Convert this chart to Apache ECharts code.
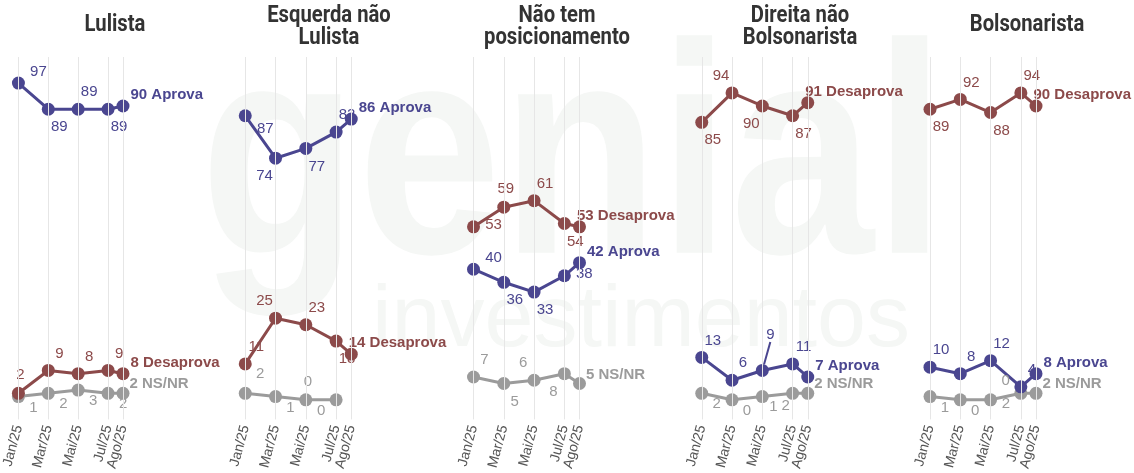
<!DOCTYPE html>
<html>
<head>
<meta charset="utf-8">
<script src="https://cdn.jsdelivr.net/npm/echarts@6/dist/echarts.min.js"></script>
<style>
  html, body { margin: 0; padding: 0; background: #fff; }
  #chart { width: 1134px; height: 473px; }
</style>
</head>
<body>
<div id="chart"></div>
<script>
// meses (posição no eixo = número do mês)
const months = [1, 3, 5, 7, 8];
const monthNames = ['Jan/25', 'Mar/25', 'Mai/25', 'Jul/25', 'Ago/25'];
const panelTitles = ['Lulista', 'Esquerda não\nLulista', 'Não tem\nposicionamento', 'Direita não\nBolsonarista', 'Bolsonarista'];

// valores por painel
const aprova = [
  [97, 89, 89, 89, 90],
  [87, 74, 77, 82, 86],
  [40, 36, 33, 38, 42],
  [13, 6, 9, 11, 7],
  [10, 8, 12, 4, 8]
];
const desaprova = [
  [2, 9, 8, 9, 8],
  [11, 25, 23, 18, 14],
  [53, 59, 61, 54, 53],
  [85, 94, 90, 87, 91],
  [89, 92, 88, 94, 90]
];
const nsnr = [
  [1, 2, 3, 2, 2],
  [2, 1, 0, 0, null],
  [7, 5, 6, 8, 5],
  [2, 0, 1, 2, 2],
  [1, 0, 0, 2, 2]
];

// onde fica cada rótulo (só layout); o último é o rótulo final
const aprovaPos = [
  ['tr2', 'br', 'tr', 'br', 'end'], ['br2', 'bl', 'br', 'tr', 'end'], ['tr2', 'br', 'br', 'r', 'end'],
  ['tr', 'tr', 'lead', 'tr', 'end'], ['tr', 'tr', 'tr', 'tr', 'end']
];
const desaprovaPos = [
  ['t', 'tr', 'tr', 'tr', 'end'], ['tr', 'tl', 'tr', 'br', 'endL'], ['r', 't', 'tr', 'br', 'endL'],
  ['br', 'tl', 'bl', 'br', 'endL'], ['br', 'tr', 'br', 'tr', 'endL']
];
const nsnrPos = [
  ['g', 'g', 'g', 'g', 'endN'], ['gt', 'g', 't', 'gl', 'endN'], ['tr', 'br', 'tl', 'bl', 'endN'],
  ['g', 'g', 'g2', 'gl2', 'endN'], ['g', 'g', 'gt', 'gl', 'endN']
];

const OFF = {
  t: [2, -18], tr: [11, -17], tl: [-11, -17], br: [11, 18], bl: [-11, 18],
  tr2: [20, -11], br2: [20, 13], r: [20, -2],
  g: [15, 11], gl: [-15, 11], gt: [15, -19], g2: [11, 10], gl2: [-7, 13],
  lead: [8, -36], end: [0, -11], endL: [-10, -11], endN: [-1, -9]
};

const FONT = '"Liberation Sans", Arial, sans-serif';
const COLORS = { aprova: '#4a4690', desaprova: '#8c4a4a', nsnr: '#9b9b9b' };
const titleX = [115, 329, 557, 800, 1027];

function buildSeries(i, vals, pos, name, color) {
  const codes = [];
  const data = vals.map((v, k) => {
    if (v === null) { codes.push(null); return [months[k], null]; }
    const item = { value: [months[k], v] };
    const base = { show: true, color: color, fontSize: 15, fontFamily: FONT };
    codes.push(pos[k]);
    if (k === vals.length - 1) {
      item.label = Object.assign(base, {
        position: 'right', distance: 1, fontWeight: 'bold',
        formatter: (p) => p.value[1] + ' ' + name
      });
    } else {
      item.label = Object.assign(base, { position: 'inside' });
      if (pos[k] === 'lead') {
        item.labelLine = { show: true, lineStyle: { color: color, width: 2 } };
      }
    }
    return item;
  });
  return {
    type: 'line', name: name, xAxisIndex: i, yAxisIndex: i, z: 3,
    data: data, symbol: 'circle', symbolSize: 13,
    lineStyle: { color: color, width: 3 },
    itemStyle: { color: color },
    labelLayout: (p) => {
      const o = OFF[codes[p.dataIndex]] || [0, 0];
      return { dx: o[0], dy: o[1] };
    },
    animation: false
  };
}

const grids = [], xAxes = [], yAxes = [], series = [], graphics = [];

// marca d'água
graphics.push(
  { type: 'text', z: -10, silent: true, x: 200, y: 20, scaleX: 0.86,
    style: { text: 'genial', font: 'bold 300px "Liberation Sans", sans-serif', fill: '#f5f7f5' } },
  { type: 'text', z: -10, silent: true, x: 372, y: 278,
    style: { text: 'investimentos', font: '88px "Liberation Sans", sans-serif', fill: '#f5f7f5' } }
);

panelTitles.forEach((t, i) => {
  grids.push({ left: 17 + i * 228.25, top: 57, width: 106, height: 363 });
  xAxes.push({
    type: 'value', gridIndex: i, min: 1, max: 8, interval: 1,
    axisLine: { show: false }, axisTick: { show: false }, splitLine: { show: false },
    axisLabel: {
      rotate: 75, margin: 6, fontSize: 14, color: '#555', fontFamily: FONT,
      formatter: (v) => monthNames[months.indexOf(v)] || ''
    }
  });
  yAxes.push({ type: 'value', gridIndex: i, min: -6, max: 105, show: false });
  // título do painel (fonte condensada simulada)
  graphics.push({
    type: 'text', silent: true, x: titleX[i], y: t.indexOf('\n') >= 0 ? 27 : 25, scaleX: 0.88,
    style: {
      text: t, align: 'center', verticalAlign: 'middle',
      font: 'bold 23px Roboto, "Liberation Sans", sans-serif', lineHeight: 22, fill: '#333'
    }
  });
  // linhas verticais nos meses
  series.push({
    type: 'line', xAxisIndex: i, yAxisIndex: i, data: [], z: 1, silent: true,
    markLine: {
      silent: true, symbol: 'none', label: { show: false }, animation: false,
      lineStyle: { color: '#e6e6e6', type: 'solid', width: 1 },
      data: months.map((m) => ({ xAxis: m }))
    }
  });
  series.push(buildSeries(i, nsnr[i], nsnrPos[i], 'NS/NR', COLORS.nsnr));
  series.push(buildSeries(i, desaprova[i], desaprovaPos[i], 'Desaprova', COLORS.desaprova));
  series.push(buildSeries(i, aprova[i], aprovaPos[i], 'Aprova', COLORS.aprova));
});

const chart = echarts.init(document.getElementById('chart'));
chart.setOption({
  backgroundColor: '#fff',
  animation: false,
  grid: grids,
  xAxis: xAxes,
  yAxis: yAxes,
  graphic: graphics,
  series: series
});
</script>
</body>
</html>
